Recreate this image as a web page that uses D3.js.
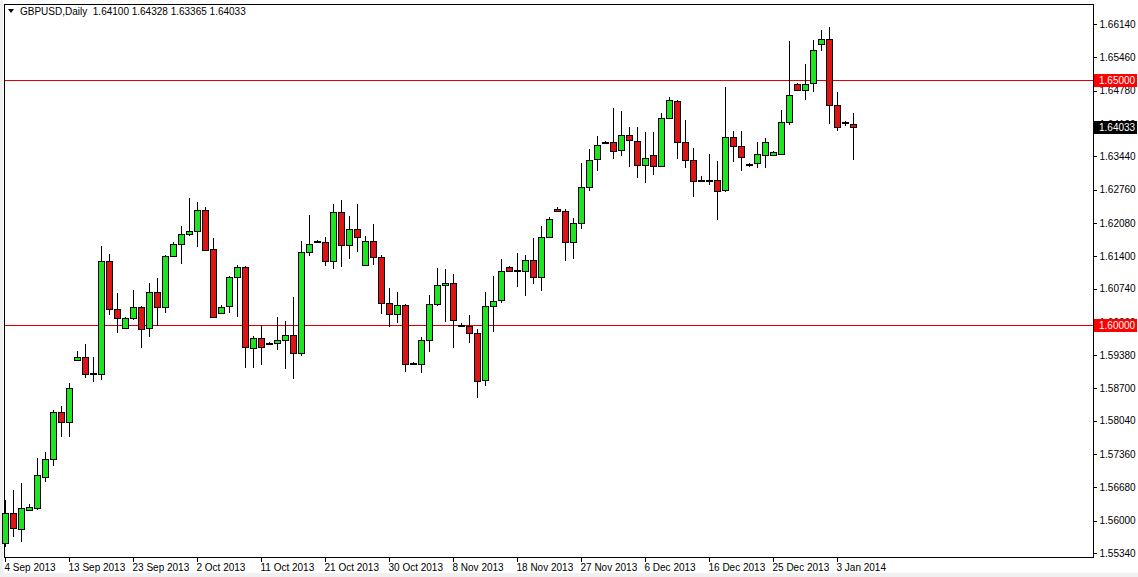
<!DOCTYPE html>
<html>
<head>
<meta charset="utf-8">
<script src="https://cdn.jsdelivr.net/npm/d3@7"></script>
<style>
  body { margin: 0; background: #fff; }
  svg { display: block; font-family: "Liberation Sans", Arial, sans-serif; }
</style>
</head>
<body>
<svg width="1138" height="577"></svg>
<script>
// daily candles GBPUSD, 4 Sep 2013 .. 6 Jan 2014 (Sunday bars included)
const opens = [1.5554,1.5615,1.5584,1.5621,1.5626,1.5689,1.5726,1.5821,1.5800,1.5928,1.5934,1.5899,1.5899,1.6130,1.6033,1.5994,1.6014,1.6037,1.5992,1.6066,
  1.6035,1.6140,1.6165,1.6185,1.6191,1.6234,1.6154,1.6025,1.6037,1.6097,1.6117,1.5953,1.5973,1.5963,1.5963,1.5969,1.5979,1.5942,1.6148,1.6171,
  1.6169,1.6130,1.6230,1.6163,1.6195,1.6121,1.6171,1.6138,1.6045,1.6023,1.6041,1.5922,1.5920,1.5969,1.6043,1.6082,1.6086,1.6000,1.5998,1.5984,
  1.5887,1.6039,1.6049,1.6117,1.6111,1.6109,1.6132,1.6097,1.6179,1.6236,1.6232,1.6169,1.6208,1.6282,1.6337,1.6374,1.6374,1.6356,1.6387,1.6376,
  1.6327,1.6347,1.6325,1.6422,1.6457,1.6374,1.6337,1.6296,1.6296,1.6296,1.6274,1.6383,1.6364,1.6329,1.6329,1.6348,1.6346,1.6348,1.6413,1.6492,
  1.6480,1.6492,1.6573,1.6583,1.6448,1.6413,1.6410];
const highs = [1.5642,1.5663,1.5677,1.5634,1.5728,1.5741,1.5825,1.5835,1.5881,1.5947,1.5961,1.5934,1.6160,1.6144,1.6064,1.6016,1.6070,1.6039,1.6086,1.6095,
  1.6142,1.6169,1.6202,1.6259,1.6251,1.6241,1.6177,1.6041,1.6099,1.6121,1.6119,1.5977,1.6000,1.5965,1.6016,1.6008,1.6056,1.6171,1.6224,1.6174,
  1.6179,1.6247,1.6255,1.6222,1.6247,1.6181,1.6206,1.6142,1.6076,1.6066,1.6043,1.5924,1.5975,1.6060,1.6115,1.6113,1.6103,1.6004,1.6019,1.5992,
  1.6066,1.6099,1.6134,1.6119,1.6146,1.6142,1.6177,1.6202,1.6220,1.6241,1.6236,1.6218,1.6331,1.6358,1.6385,1.6376,1.6442,1.6436,1.6403,1.6403,
  1.6393,1.6393,1.6432,1.6465,1.6459,1.6418,1.6360,1.6304,1.6348,1.6335,1.6485,1.6395,1.6395,1.6331,1.6374,1.6381,1.6354,1.6438,1.6579,1.6494,
  1.6533,1.6581,1.6601,1.6607,1.6475,1.6415,1.64328];
const lows = [1.5547,1.5566,1.5556,1.5619,1.5621,1.5679,1.5712,1.5770,1.5770,1.5928,1.5891,1.5883,1.5887,1.6019,1.5984,1.5992,1.6010,1.5953,1.5975,1.5998,
  1.6025,1.6140,1.6125,1.6181,1.6158,1.6150,1.6014,1.6025,1.6025,1.6016,1.5912,1.5912,1.5918,1.5959,1.5949,1.5909,1.5889,1.5936,1.6140,1.6167,
  1.6119,1.6113,1.6117,1.6134,1.6148,1.6119,1.6121,1.6021,1.5996,1.6004,1.5903,1.5918,1.5901,1.5944,1.6039,1.6006,1.5953,1.5996,1.5963,1.5850,
  1.5875,1.5986,1.6045,1.6107,1.6078,1.6058,1.6084,1.6068,1.6177,1.6230,1.6130,1.6134,1.6195,1.6274,1.6313,1.6372,1.6339,1.6344,1.6323,1.6300,
  1.6290,1.6306,1.6323,1.6420,1.6339,1.6319,1.6261,1.6292,1.6286,1.6214,1.6272,1.6333,1.6313,1.6323,1.6319,1.6319,1.6344,1.6348,1.6407,1.6478,
  1.6459,1.6475,1.6558,1.6409,1.6395,1.6405,1.63365];
const closes = [1.5615,1.5584,1.5626,1.5628,1.5694,1.5726,1.5821,1.5800,1.5870,1.5934,1.5899,1.5901,1.6130,1.6033,1.6014,1.6014,1.6037,1.5992,1.6066,1.6035,
  1.6140,1.6165,1.6185,1.6191,1.6234,1.6152,1.6016,1.6037,1.6097,1.6117,1.5953,1.5973,1.5955,1.5961,1.5969,1.5979,1.5942,1.6148,1.6165,1.6171,
  1.6130,1.6230,1.6163,1.6195,1.6179,1.6171,1.6138,1.6045,1.6023,1.6041,1.5920,1.5922,1.5969,1.6043,1.6082,1.6086,1.6010,1.6000,1.5984,1.5887,
  1.6039,1.6049,1.6109,1.6109,1.6111,1.6132,1.6097,1.6179,1.6216,1.6232,1.6169,1.6208,1.6282,1.6337,1.6366,1.6374,1.6356,1.6387,1.6376,1.6327,
  1.6341,1.6325,1.6422,1.6459,1.6374,1.6337,1.6294,1.6296,1.6294,1.6274,1.6383,1.6364,1.6341,1.6329,1.6348,1.6374,1.6352,1.6413,1.6469,1.6480,
  1.6492,1.6560,1.6583,1.6448,1.6403,1.6410,1.64033];

const dateLabels = ["4 Sep 2013","13 Sep 2013","23 Sep 2013","2 Oct 2013","11 Oct 2013","21 Oct 2013","30 Oct 2013",
  "8 Nov 2013","18 Nov 2013","27 Nov 2013","6 Dec 2013","16 Dec 2013","25 Dec 2013","3 Jan 2014"];
const labelEvery = 8;
const priceTicks = [1.66140,1.65460,1.64780,1.64100,1.63440,1.62760,1.62080,1.61400,1.60740,1.60060,
  1.59380,1.58700,1.58040,1.57360,1.56680,1.56000,1.55340];
const levels = [1.65000, 1.60000];
const lastPrice = 1.64033;
const title = "GBPUSD,Daily  1.64100 1.64328 1.63365 1.64033";

const svg = d3.select("svg");
const plotL = 4, plotR = 1093, plotT = 4, plotB = 557;

const candles = opens.map((o, i) => ({ i, o, h: highs[i], l: lows[i], c: closes[i] }));

const x = d3.scaleLinear().domain([0, 1]).range([5, 13]);
const y = d3.scaleLinear().domain([1.55340, 1.66140]).range([553, 24]);

// grey window border
svg.append("rect").attr("width", 1138).attr("height", 577).attr("fill", "#f0f0f0");
svg.append("rect").attr("x", 3).attr("y", 0).attr("width", 1135).attr("height", 573).attr("fill", "#fff");
svg.append("rect").attr("x", plotL + 0.5).attr("y", plotT + 0.5).attr("width", plotR - plotL).attr("height", plotB - plotT)
  .attr("fill", "#fff").attr("stroke", "#000").attr("stroke-width", 1);

// horizontal levels
svg.selectAll(".level").data(levels).enter().append("rect")
  .attr("x", plotL + 1).attr("width", plotR - plotL - 1)
  .attr("y", d => Math.round(y(d))).attr("height", 1)
  .attr("fill", "#e00000").attr("shape-rendering", "crispEdges");

// price axis
const yAxis = svg.append("g").attr("transform", `translate(${plotR + 0.5},0)`)
  .call(d3.axisRight(y).tickValues(priceTicks).tickSize(3).tickFormat(d3.format(".5f")));
yAxis.select(".domain").remove();
yAxis.selectAll("line").attr("stroke", "#000").attr("shape-rendering", "crispEdges");
yAxis.selectAll("text").attr("font-size", 10).attr("fill", "#000").attr("x", 6);

// date axis
const xAxis = svg.append("g").attr("transform", `translate(0,${plotB + 0.5})`)
  .call(d3.axisBottom(x).tickValues(dateLabels.map((d, k) => k * labelEvery)).tickSize(4)
    .tickFormat((d, k) => dateLabels[k]));
xAxis.select(".domain").remove();
xAxis.selectAll("line").attr("stroke", "#000").attr("shape-rendering", "crispEdges");
xAxis.selectAll("text").attr("font-size", 10).attr("fill", "#000")
  .attr("text-anchor", "start").attr("x", -1).attr("y", 6);

// price boxes on the right
const boxes = [{ v: levels[0], fill: "#ff0000" }, { v: levels[1], fill: "#ff0000" }, { v: lastPrice, fill: "#000" }];
const bx = svg.selectAll(".box").data(boxes).enter().append("g")
  .attr("transform", d => `translate(${plotR + 1},${Math.round(y(d.v))})`);
bx.append("rect").attr("x", 0).attr("y", -6).attr("width", 43).attr("height", 13).attr("fill", d => d.fill);
bx.append("text").attr("x", 5).attr("y", 4).attr("font-size", 10).attr("fill", "#fff")
  .text(d => d3.format(".5f")(d.v));

// candles
const g = svg.append("g").attr("shape-rendering", "crispEdges");
g.selectAll(".wick").data(candles).enter().append("line")
  .attr("x1", d => Math.round(x(d.i)) + 0.5).attr("x2", d => Math.round(x(d.i)) + 0.5)
  .attr("y1", d => y(d.h)).attr("y2", d => y(d.l))
  .attr("stroke", "#000");
g.selectAll(".body").data(candles).enter().append("rect")
  .attr("x", d => Math.round(x(d.i)) - 2.5)
  .attr("y", d => Math.round(y(Math.max(d.o, d.c))) + 0.5)
  .attr("width", 6)
  .attr("height", d => Math.max(1, Math.round(Math.abs(y(d.o) - y(d.c)))))
  .attr("fill", d => d.c >= d.o ? "#1ee61e" : "#dc1414")
  .attr("stroke", "#000");

// header
svg.append("path").attr("d", "M8,9 L14,9 L11,13 Z").attr("fill", "#000");
svg.append("text").attr("x", 20).attr("y", 15).attr("font-size", 10).attr("fill", "#000")
  .attr("xml:space", "preserve").style("white-space", "pre").text(title);
</script>
</body>
</html>
